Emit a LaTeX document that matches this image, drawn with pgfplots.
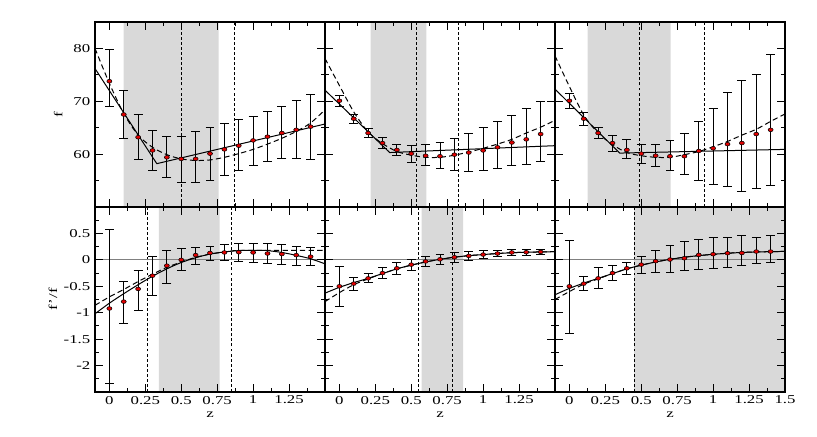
\documentclass[border=0pt]{standalone}
\usepackage{fontspec}
\setmainfont{Liberation Serif}[FakeStretch=1.4]
\usepackage{pgfplots}
\usepackage{pgfplotstable}
\usepgfplotslibrary{groupplots}
\pgfplotsset{compat=1.18}
\definecolor{band}{RGB}{217,217,217}
\definecolor{ptred}{RGB}{225,0,0}
\definecolor{zline}{RGB}{128,128,128}

% x y hi lo
\pgfplotstableread{
x y hi lo
0 73.8 79.8 69.1
0.1 67.5 72.1 63.0
0.2 63.2 67.5 58.9
0.3 60.7 64.5 56.9
0.4 59.4 63.3 55.5
0.5 59.1 63.4 54.6
0.6 59.1 64.2 54.6
0.7 60.1 65.0 55.1
0.8 60.9 65.8 56.0
0.9 61.6 66.5 56.9
1.0 62.6 67.1 57.9
1.1 63.3 68.1 58.6
1.2 64.0 69.0 59.1
1.3 64.6 70.2 59.1
1.4 65.2 71.2 58.9
}\TA
\pgfplotstableread{
x y hi lo
0 70.1 71.1 69.0
0.1 66.7 67.5 65.8
0.2 64.0 64.9 63.1
0.3 62.1 63.1 61.1
0.4 60.8 61.9 59.7
0.5 60.1 61.6 58.5
0.6 59.7 61.8 57.8
0.7 59.6 62.3 57.2
0.8 59.9 63.0 56.9
0.9 60.3 64.0 56.8
1.0 60.7 65.1 57.0
1.1 61.3 66.2 57.2
1.2 62.2 67.4 57.8
1.3 62.8 68.6 58.1
1.4 63.8 69.9 58.7
}\TB
\pgfplotstableread{
x y hi lo
0 70.1 71.4 68.7
0.1 66.7 67.8 65.5
0.2 64.0 65.0 63.0
0.3 62.1 63.6 60.6
0.4 60.8 62.7 59.1
0.5 60.1 61.9 58.3
0.6 59.7 61.8 57.7
0.7 59.6 62.6 56.9
0.8 59.6 64.0 56.2
0.9 60.6 66.2 55.1
1.0 61.1 68.7 54.2
1.1 61.9 71.6 53.8
1.2 62.1 73.9 53.0
1.3 63.8 75.0 53.5
1.4 64.6 78.9 54.1
}\TC
\pgfplotstableread{
x y hi lo
0 -0.92 0.57 -2.33
0.1 -0.79 -0.40 -1.21
0.2 -0.55 -0.20 -0.96
0.3 -0.30 0.06 -0.67
0.4 -0.11 0.18 -0.44
0.5 0.00 0.21 -0.21
0.6 0.09 0.23 -0.08
0.7 0.13 0.26 -0.01
0.8 0.14 0.30 -0.01
0.9 0.145 0.31 -0.03
1.0 0.14 0.31 -0.04
1.1 0.12 0.31 -0.06
1.2 0.11 0.30 -0.08
1.3 0.09 0.26 -0.10
1.4 0.06 0.23 -0.11
}\BA
\pgfplotstableread{
x y hi lo
0 -0.50 -0.12 -0.89
0.1 -0.45 -0.33 -0.57
0.2 -0.35 -0.26 -0.43
0.3 -0.25 -0.15 -0.35
0.4 -0.16 -0.05 -0.27
0.5 -0.09 0.01 -0.20
0.6 -0.03 0.06 -0.13
0.7 0.01 0.11 -0.09
0.8 0.05 0.14 -0.04
0.9 0.075 0.16 -0.01
1.0 0.10 0.18 0.025
1.1 0.12 0.18 0.06
1.2 0.14 0.19 0.075
1.3 0.145 0.19 0.09
1.4 0.15 0.195 0.11
}\BB
\pgfplotstableread{
x y hi lo
0 -0.50 0.36 -1.40
0.1 -0.45 -0.31 -0.58
0.2 -0.35 -0.15 -0.55
0.3 -0.25 -0.10 -0.39
0.4 -0.16 -0.05 -0.28
0.5 -0.09 0.06 -0.25
0.6 -0.025 0.18 -0.24
0.7 0.006 0.28 -0.23
0.8 0.03 0.34 -0.21
0.9 0.094 0.38 -0.19
1.0 0.107 0.42 -0.17
1.1 0.126 0.42 -0.14
1.2 0.13 0.46 -0.11
1.3 0.157 0.42 -0.07
1.4 0.157 0.47 -0.04
}\BC

\pgfplotsset{
  datapts/.style={only marks, mark=*, mark size=1.4pt,
    mark options={fill=ptred, draw=black, line width=0.4pt, xscale=1.35},
    error bars/.cd, y dir=both, y explicit,
    error bar style={line width=0.7pt, black},
    error mark options={rotate=90, mark size=3.3pt, line width=0.7pt, black}},
  vline/.style={black, line width=0.75pt, dash pattern=on 2.2pt off 1.6pt},
  fitsolid/.style={black, line width=0.75pt, no marks},
  fitdash/.style={black, line width=0.75pt, no marks, dash pattern=on 4pt off 2.5pt},
  bandfill/.style={band, draw=none, fill=band},
}
\newcommand{\pts}[1]{\addplot[datapts] table[x=x, y=y,
  y error plus expr=\thisrow{hi}-\thisrow{y},
  y error minus expr=\thisrow{y}-\thisrow{lo}] {#1};}

\begin{document}
\begin{tikzpicture}
\begin{groupplot}[
  group style={group size=3 by 2, horizontal sep=0pt, vertical sep=0pt,
    xticklabels at=edge bottom, yticklabels at=edge left},
  width=172.5pt, height=138.75pt, scale only axis,
  xmin=-0.1, xmax=1.5,
  xtick={0,0.25,0.5,0.75,1,1.25,1.5},
  minor x tick num=1,
  axis on top,
  axis line style={line width=0.9pt},
  every tick/.style={black, line width=0.7pt},
  major tick length=6pt, minor tick length=3pt,
  tick label style={font=\fontsize{9}{10}\selectfont},
  label style={font=\fontsize{9}{10}\selectfont},
  /pgf/number format/assume math mode=true,
  xticklabel style={yshift=0.5pt},
]
% ---------- top row ----------
\nextgroupplot[ymin=50, ymax=85, ytick={60,70,80}, minor ytick={55,65,75},
  ylabel={f}, ylabel style={at={(axis description cs:-0.16,0.5)}, anchor=center}]
\coordinate (TL) at (rel axis cs:0,1);
\addplot[bandfill] coordinates {(0.1,50) (0.76,50) (0.76,85) (0.1,85)} \closedcycle;
\addplot[vline] coordinates {(0.5,50) (0.5,85)};
\addplot[vline] coordinates {(0.87,50) (0.87,85)};
\addplot[fitsolid] coordinates {(-0.1,76.2) (0.33,58.2) (1.5,65.7)};
\addplot[fitdash, smooth] coordinates {(-0.1,80) (0,73.4) (0.1,67.7) (0.2,63.6) (0.3,61.3) (0.4,59.9) (0.5,59.1) (0.6,58.8) (0.7,58.9) (0.8,59.4) (0.9,60.1) (1.0,60.9) (1.1,61.9) (1.2,63.0) (1.3,64.3) (1.4,65.9) (1.5,68.4)};
\pts{\TA}

\nextgroupplot[ymin=50, ymax=85, ytick={60,70,80}, minor ytick={55,65,75}]
\addplot[bandfill] coordinates {(0.218,50) (0.606,50) (0.606,85) (0.218,85)} \closedcycle;
\addplot[vline] coordinates {(0.539,50) (0.539,85)};
\addplot[vline] coordinates {(0.829,50) (0.829,85)};
\addplot[fitsolid] coordinates {(-0.1,72.1) (0.35,60.3) (1.5,61.6)};
\addplot[fitdash, smooth] coordinates {(-0.1,78.1) (0,73.0) (0.1,68.0) (0.2,64.2) (0.3,62.0) (0.4,60.5) (0.5,59.8) (0.6,59.4) (0.7,59.4) (0.8,59.8) (0.9,60.4) (1.0,61.1) (1.1,61.9) (1.2,62.8) (1.3,64.0) (1.4,65.1) (1.5,66.4)};
\pts{\TB}

\nextgroupplot[ymin=50, ymax=85, ytick={60,70,80}, minor ytick={55,65,75}]
\addplot[bandfill] coordinates {(0.127,50) (0.704,50) (0.704,85) (0.127,85)} \closedcycle;
\addplot[vline] coordinates {(0.486,50) (0.486,85)};
\addplot[vline] coordinates {(0.942,50) (0.942,85)};
\addplot[fitsolid] coordinates {(-0.1,72.3) (0.35,60.2) (1.5,60.9)};
\addplot[fitdash, smooth] coordinates {(-0.1,78.6) (0,72.8) (0.1,67.4) (0.2,64.0) (0.3,61.8) (0.4,60.3) (0.5,59.7) (0.6,59.4) (0.7,59.4) (0.8,59.9) (0.9,60.5) (1.0,61.4) (1.1,62.4) (1.2,63.6) (1.3,64.7) (1.4,66.2) (1.5,67.6)};
\pts{\TC}

% ---------- bottom row ----------
\nextgroupplot[ymin=-2.5, ymax=1, ytick={-2,-1.5,-1,-0.5,0,0.5},
  minor ytick={-2.25,-1.75,-1.25,-0.75,-0.25,0.25,0.75},
  xticklabels={0,0.25,0.5,0.75,1,1.25,},
  xlabel={z}, xlabel style={at={(axis description cs:0.5,-0.125)}, anchor=center},
  ylabel={f’/f}, ylabel style={at={(axis description cs:-0.183,0.5)}, anchor=center}]
\addplot[bandfill] coordinates {(0.344,-2.5) (0.767,-2.5) (0.767,1) (0.344,1)} \closedcycle;
\addplot[vline] coordinates {(0.268,-2.5) (0.268,1)};
\addplot[vline] coordinates {(0.848,-2.5) (0.848,1)};
\addplot[zline, line width=0.75pt, no marks] coordinates {(-0.1,0) (1.5,0)};
\addplot[fitsolid, smooth] coordinates {(-0.1,-1.02) (0,-0.82) (0.1,-0.64) (0.2,-0.47) (0.3,-0.31) (0.4,-0.17) (0.5,-0.05) (0.6,0.04) (0.7,0.11) (0.8,0.15) (0.9,0.175) (1.0,0.18) (1.05,0.18) (1.1,0.175) (1.2,0.14) (1.3,0.085) (1.4,0.02) (1.5,-0.075)};
\addplot[fitdash] coordinates {(-0.1,-0.86) (0,-0.70) (0.1,-0.56) (0.2,-0.41) (0.3,-0.27) (0.4,-0.14) (0.5,-0.04) (0.6,0.05) (0.7,0.11) (0.8,0.15) (0.85,0.17) (0.9,0.18) (1.5,0.18)};
\pts{\BA}

\nextgroupplot[ymin=-2.5, ymax=1, ytick={-2,-1.5,-1,-0.5,0,0.5},
  minor ytick={-2.25,-1.75,-1.25,-0.75,-0.25,0.25,0.75},
  xticklabels={0,0.25,0.5,0.75,1,1.25,},
  xlabel={z}, xlabel style={at={(axis description cs:0.5,-0.125)}, anchor=center}]
\addplot[bandfill] coordinates {(0.572,-2.5) (0.861,-2.5) (0.861,1) (0.572,1)} \closedcycle;
\addplot[vline] coordinates {(0.551,-2.5) (0.551,1)};
\addplot[vline] coordinates {(0.789,-2.5) (0.789,1)};
\addplot[zline, line width=0.75pt, no marks] coordinates {(-0.1,0) (1.5,0)};
\addplot[fitsolid, smooth] coordinates {(-0.1,-0.63) (0,-0.52) (0.1,-0.43) (0.2,-0.35) (0.3,-0.26) (0.4,-0.17) (0.5,-0.10) (0.6,-0.04) (0.7,0.01) (0.8,0.05) (0.9,0.08) (1.0,0.10) (1.1,0.12) (1.2,0.135) (1.3,0.145) (1.4,0.15) (1.5,0.155)};
\addplot[fitdash, smooth] coordinates {(-0.1,-0.79) (0,-0.62) (0.1,-0.47) (0.2,-0.36) (0.3,-0.26) (0.4,-0.17) (0.5,-0.10) (0.6,-0.04) (0.7,0.01) (0.8,0.05) (0.9,0.08) (1.0,0.10) (1.1,0.12) (1.2,0.135) (1.3,0.145) (1.4,0.15) (1.5,0.155)};
\pts{\BB}

\nextgroupplot[ymin=-2.5, ymax=1, ytick={-2,-1.5,-1,-0.5,0,0.5},
  minor ytick={-2.25,-1.75,-1.25,-0.75,-0.25,0.25,0.75},
  xticklabels={0,0.25,0.5,0.75,1,1.25,1.5},
  xlabel={z}, xlabel style={at={(axis description cs:0.5,-0.125)}, anchor=center}]
\addplot[bandfill] coordinates {(0.451,-2.5) (1.5,-2.5) (1.5,1) (0.451,1)} \closedcycle;
\addplot[vline] coordinates {(0.451,-2.5) (0.451,1)};
\addplot[zline, line width=0.75pt, no marks] coordinates {(-0.1,0) (1.5,0)};
\addplot[fitsolid, smooth] coordinates {(-0.1,-0.66) (0,-0.54) (0.1,-0.44) (0.2,-0.35) (0.3,-0.26) (0.4,-0.17) (0.5,-0.10) (0.6,-0.04) (0.7,0.01) (0.8,0.05) (0.9,0.08) (1.0,0.105) (1.1,0.125) (1.2,0.14) (1.3,0.15) (1.4,0.155) (1.5,0.16)};
\addplot[fitdash, smooth] coordinates {(-0.1,-0.75) (0,-0.60) (0.1,-0.46) (0.2,-0.36) (0.3,-0.26) (0.4,-0.17) (0.5,-0.10) (0.6,-0.04) (0.7,0.01) (0.8,0.05) (0.9,0.08) (1.0,0.105) (1.1,0.125) (1.2,0.14) (1.3,0.15) (1.4,0.155) (1.5,0.16)};
\pts{\BC}
\end{groupplot}
\path (TL) ++(-71.25pt,16.5pt) rectangle ++(612.75pt,-327pt);
\end{tikzpicture}
\end{document}
